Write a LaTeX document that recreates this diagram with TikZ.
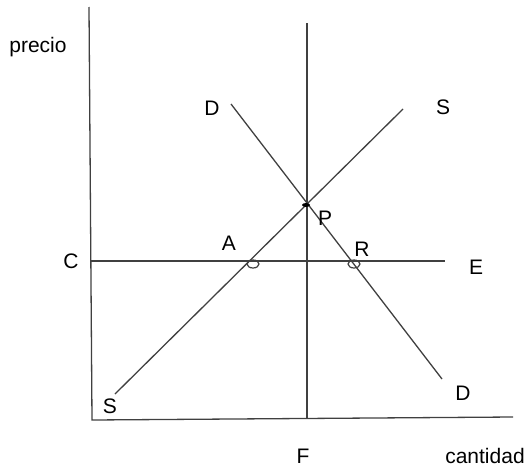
\documentclass[tikz,border=0pt]{standalone}
\usepackage{fontspec}
\setmainfont{Liberation Sans}
\usepackage{tikz}
\usetikzlibrary{calc}
\colorlet{linegray}{black!75}
\tikzset{
  curve/.style={line width=1.3pt,linegray},
  lbl/.style={anchor=base,inner sep=0pt,font=\fontsize{21}{25}\selectfont},
  ring/.style={draw=linegray,line width=1.2pt}
}

\begin{document}
\begin{tikzpicture}[x=1pt,y=-1pt]
\useasboundingbox (0,0) rectangle (527,466);
% axes
\coordinate (ytop) at (89,7); \coordinate (orig) at (92,420); \coordinate (xend) at (513,417);
\draw[curve] (ytop)--(orig)--(xend);
% vertical line through F and horizontal line through C
\coordinate (ftop) at (307,23); \coordinate (fbot) at (307,419);
\draw[curve] (ftop)--(fbot);
\coordinate (cl) at (91,261); \coordinate (er) at (445,261);
\draw[curve] (cl)--(er);
% supply and demand
\coordinate (s1) at (115,394); \coordinate (s2) at (403,109);
\draw[curve] (s1)--(s2);
\coordinate (d1) at (231,104); \coordinate (d2) at (442,379);
\draw[curve] (d1)--(d2);
% points
\fill[black] (306,205) ellipse (4 and 2);
\draw[ring] (253,264) ellipse (6 and 4);
\draw[ring] (354,264) ellipse (6 and 4);
% labels
\node[lbl] (precio) at (38,52) {precio};
\node[lbl] (dtop) at (212,115) {D};
\node[lbl] (stop) at (443,114) {S};
\node[lbl] (p) at (325,225) {P};
\node[lbl] (a) at (229,250) {A};
\node[lbl] (r) at (362,256) {R};
\node[lbl] (c) at (71,268) {C};
\node[lbl] (e) at (476,274) {E};
\node[lbl] (sbot) at (110,413) {S};
\node[lbl] (dbot) at (463,400) {D};
\node[lbl] (f) at (303,463) {F};
\node[lbl] (cantidad) at (485,463) {cantidad};
\end{tikzpicture}
\end{document}
